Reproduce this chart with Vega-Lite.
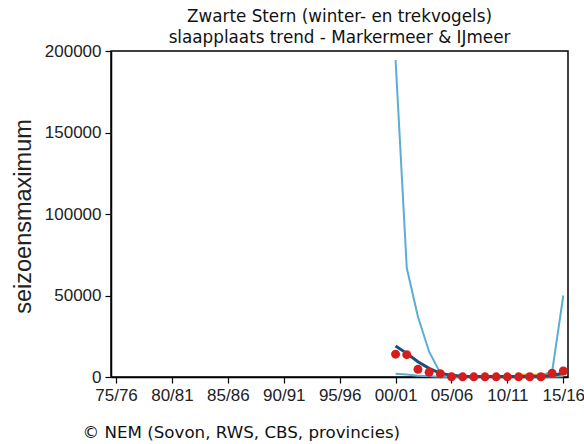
{
  "$schema": "https://vega.github.io/schema/vega-lite/v6.json",
  "width": 457,
  "height": 326,
  "autosize": {"type": "none"},
  "padding": {"left": 111, "top": 51, "right": 16, "bottom": 67},
  "background": "white",
  "title": {
    "text": ["Zwarte Stern (winter- en trekvogels)", "slaapplaats trend - Markermeer & IJmeer"],
    "font": "DejaVu Sans",
    "fontSize": 16.8,
    "fontWeight": "normal",
    "color": "#111111",
    "anchor": "middle",
    "lineHeight": 21,
    "offset": 3,
    "dy": 8
  },
  "config": {
    "view": {"stroke": "black", "strokeWidth": 1.5},
    "axis": {
      "grid": false,
      "domainColor": "black",
      "domainWidth": 1.5,
      "tickColor": "black",
      "tickWidth": 1.2,
      "tickSize": 6,
      "labelFont": "Liberation Sans",
      "labelFontSize": 17,
      "labelColor": "#222222",
      "labelPadding": 4,
      "titleFontWeight": "normal",
      "titleColor": "#222222"
    }
  },
  "data": {
    "values": [
      {"year": 2000, "count": 14000, "trend": 19000, "upper": 194500, "lower": 2000, "orange": null},
      {"year": 2001, "count": 13700, "trend": 14500, "upper": 67000, "lower": 1500, "orange": null},
      {"year": 2002, "count": 4700, "trend": 9400, "upper": 37000, "lower": 800, "orange": null},
      {"year": 2003, "count": 2900, "trend": 5300, "upper": 15500, "lower": 400, "orange": null},
      {"year": 2004, "count": 2000, "trend": 2300, "upper": 2500, "lower": 150, "orange": null},
      {"year": 2005, "count": 150, "trend": 1000, "upper": 900, "lower": 60, "orange": null},
      {"year": 2006, "count": 100, "trend": 500, "upper": 600, "lower": 40, "orange": null},
      {"year": 2007, "count": 100, "trend": 350, "upper": 500, "lower": 30, "orange": null},
      {"year": 2008, "count": 100, "trend": 300, "upper": 450, "lower": 30, "orange": null},
      {"year": 2009, "count": 100, "trend": 300, "upper": 450, "lower": 30, "orange": null},
      {"year": 2010, "count": 100, "trend": 300, "upper": 500, "lower": 30, "orange": null},
      {"year": 2011, "count": 100, "trend": 300, "upper": 600, "lower": 30, "orange": 1200},
      {"year": 2012, "count": 150, "trend": 350, "upper": 700, "lower": 30, "orange": 1200},
      {"year": 2013, "count": 150, "trend": 400, "upper": 900, "lower": 40, "orange": 1200},
      {"year": 2014, "count": 2300, "trend": 800, "upper": 3200, "lower": 100, "orange": 1200},
      {"year": 2015, "count": 3700, "trend": 2500, "upper": 50000, "lower": 400, "orange": 1200}
    ]
  },
  "encoding": {
    "x": {
      "field": "year",
      "type": "quantitative",
      "scale": {"domain": [1974.55, 2015.42], "nice": false, "zero": false},
      "axis": {
        "values": [1975, 1980, 1985, 1990, 1995, 2000, 2005, 2010, 2015],
        "labelExpr": "substring(toString(datum.value), 2, 4) + '/' + substring(toString(datum.value + 1), 2, 4)",
        "labelFlush": false,
        "labelOverlap": false,
        "title": "© NEM (Sovon, RWS, CBS, provincies)",
        "titleFont": "DejaVu Sans",
        "titleFontSize": 16.7,
        "titleColor": "#111111",
        "titleAlign": "left",
        "titleAnchor": "start",
        "titleBaseline": "middle",
        "titleX": -29,
        "titleY": 55
      }
    }
  },
  "layer": [
    {
      "mark": {"type": "line", "color": "#5aaed2", "strokeWidth": 2},
      "encoding": {
        "y": {
          "field": "upper",
          "type": "quantitative",
          "scale": {"domain": [0, 200000], "nice": false},
          "axis": {
            "values": [0, 50000, 100000, 150000, 200000],
            "format": "d",
            "labelOverlap": false,
            "title": "seizoensmaximum",
            "titleFont": "Liberation Sans",
            "titleFontSize": 23.5,
            "titleAngle": 270,
            "titleAlign": "center",
            "titleBaseline": "middle",
            "titleX": -88,
            "titleY": 165
          }
        }
      }
    },
    {
      "mark": {"type": "line", "color": "#5aaed2", "strokeWidth": 2},
      "encoding": {"y": {"field": "lower", "type": "quantitative"}}
    },
    {
      "transform": [{"filter": "isValid(datum.orange)"}],
      "mark": {"type": "line", "color": "#e89a1c", "strokeWidth": 2.5},
      "encoding": {"y": {"field": "orange", "type": "quantitative"}}
    },
    {
      "mark": {"type": "line", "color": "#1d4d7c", "strokeWidth": 3},
      "encoding": {"y": {"field": "trend", "type": "quantitative"}}
    },
    {
      "mark": {"type": "circle", "color": "#d41e1e", "opacity": 1, "size": 80},
      "encoding": {"y": {"field": "count", "type": "quantitative"}}
    }
  ]
}
